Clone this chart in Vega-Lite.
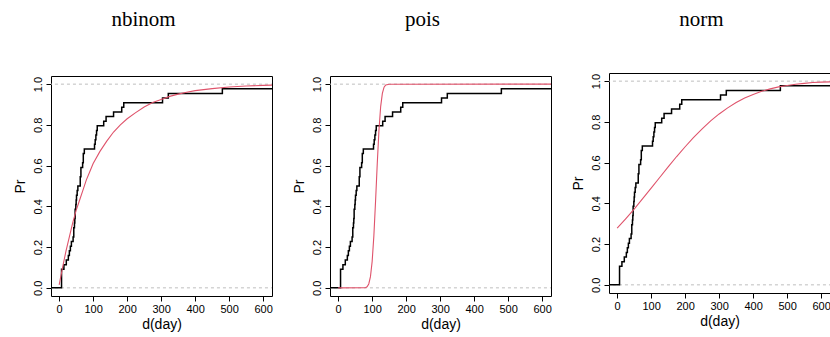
{
  "$schema": "https://vega.github.io/schema/vega-lite/v6.json",
  "padding": {"left": 12, "top": 9, "right": 0, "bottom": 0},
  "spacing": 18,
  "config": {
    "axis": {"labelFont": "Liberation Sans", "titleFont": "Liberation Sans", "titleFontWeight": "normal", "labelColor": "#000", "titleColor": "#000", "tickColor": "#000", "grid": false, "domain": false, "tickSize": 5, "labelFontSize": 11, "titleFontSize": 14, "labelOverlap": false},
    "title": {"font": "Liberation Serif", "fontWeight": "normal", "fontSize": 21, "color": "#000", "anchor": "middle", "dx": -18, "baseline": "alphabetic", "offset": 24}
  },
  "datasets": {
    "refs": [{"day": -30, "Pr": 0, "g": "a"}, {"day": 640, "Pr": 0, "g": "a"}, {"day": -30, "Pr": 1, "g": "b"}, {"day": 640, "Pr": 1, "g": "b"}],
    "ecdf": [
      {"day": -30, "Pr": 0}, {"day": 7, "Pr": 0.0909}, {"day": 14, "Pr": 0.1136}, {"day": 21, "Pr": 0.1364},
      {"day": 27, "Pr": 0.1591}, {"day": 30, "Pr": 0.1818}, {"day": 33, "Pr": 0.2045}, {"day": 36, "Pr": 0.2273},
      {"day": 41, "Pr": 0.25}, {"day": 43, "Pr": 0.2955}, {"day": 45, "Pr": 0.3182}, {"day": 46, "Pr": 0.3409},
      {"day": 47, "Pr": 0.3864}, {"day": 49, "Pr": 0.4091}, {"day": 50, "Pr": 0.4318}, {"day": 51, "Pr": 0.4545},
      {"day": 53, "Pr": 0.4773}, {"day": 55, "Pr": 0.5}, {"day": 62, "Pr": 0.5455}, {"day": 64, "Pr": 0.5909},
      {"day": 69, "Pr": 0.6136}, {"day": 71, "Pr": 0.6591}, {"day": 74, "Pr": 0.6818}, {"day": 104, "Pr": 0.7045},
      {"day": 106, "Pr": 0.7273}, {"day": 108, "Pr": 0.75}, {"day": 110, "Pr": 0.7727}, {"day": 112, "Pr": 0.7955},
      {"day": 131, "Pr": 0.8182}, {"day": 138, "Pr": 0.8409}, {"day": 160, "Pr": 0.8636}, {"day": 184, "Pr": 0.8864},
      {"day": 190, "Pr": 0.9091}, {"day": 304, "Pr": 0.9318}, {"day": 321, "Pr": 0.9545}, {"day": 480, "Pr": 0.9773},
      {"day": 640, "Pr": 0.9773}
    ],
    "nbinom": [
      {"day": 0, "Pr": 0.015}, {"day": 10, "Pr": 0.1}, {"day": 20, "Pr": 0.18}, {"day": 30, "Pr": 0.25},
      {"day": 40, "Pr": 0.32}, {"day": 50, "Pr": 0.38}, {"day": 60, "Pr": 0.43}, {"day": 70, "Pr": 0.48},
      {"day": 80, "Pr": 0.53}, {"day": 90, "Pr": 0.57}, {"day": 100, "Pr": 0.61}, {"day": 120, "Pr": 0.67},
      {"day": 140, "Pr": 0.72}, {"day": 160, "Pr": 0.765}, {"day": 180, "Pr": 0.8}, {"day": 200, "Pr": 0.83},
      {"day": 225, "Pr": 0.86}, {"day": 250, "Pr": 0.888}, {"day": 275, "Pr": 0.91}, {"day": 300, "Pr": 0.925},
      {"day": 325, "Pr": 0.94}, {"day": 350, "Pr": 0.951}, {"day": 375, "Pr": 0.96}, {"day": 400, "Pr": 0.968},
      {"day": 450, "Pr": 0.978}, {"day": 500, "Pr": 0.986}, {"day": 550, "Pr": 0.991}, {"day": 600, "Pr": 0.994},
      {"day": 640, "Pr": 0.996}
    ],
    "pois": [
      {"day": 0, "Pr": 0}, {"day": 80, "Pr": 0.0005}, {"day": 85, "Pr": 0.005}, {"day": 90, "Pr": 0.019},
      {"day": 95, "Pr": 0.055}, {"day": 100, "Pr": 0.13}, {"day": 105, "Pr": 0.255}, {"day": 110, "Pr": 0.425},
      {"day": 115, "Pr": 0.61}, {"day": 120, "Pr": 0.774}, {"day": 125, "Pr": 0.89}, {"day": 130, "Pr": 0.955},
      {"day": 135, "Pr": 0.985}, {"day": 140, "Pr": 0.996}, {"day": 150, "Pr": 0.9998}, {"day": 640, "Pr": 1}
    ],
    "norm": [
      {"day": 0, "Pr": 0.278}, {"day": 25, "Pr": 0.324}, {"day": 50, "Pr": 0.372}, {"day": 75, "Pr": 0.423},
      {"day": 100, "Pr": 0.475}, {"day": 125, "Pr": 0.527}, {"day": 150, "Pr": 0.579}, {"day": 175, "Pr": 0.63},
      {"day": 200, "Pr": 0.678}, {"day": 225, "Pr": 0.724}, {"day": 250, "Pr": 0.766}, {"day": 275, "Pr": 0.805},
      {"day": 300, "Pr": 0.839}, {"day": 325, "Pr": 0.869}, {"day": 350, "Pr": 0.895}, {"day": 375, "Pr": 0.917},
      {"day": 400, "Pr": 0.935}, {"day": 425, "Pr": 0.95}, {"day": 450, "Pr": 0.962}, {"day": 475, "Pr": 0.972},
      {"day": 500, "Pr": 0.979}, {"day": 525, "Pr": 0.985}, {"day": 550, "Pr": 0.989}, {"day": 575, "Pr": 0.993},
      {"day": 600, "Pr": 0.995}, {"day": 640, "Pr": 0.997}
    ]
  },
  "hconcat": [
    {
      "spacing": 20,
      "vconcat": [
        {"width": 221, "height": 1, "title": "nbinom", "view": {"stroke": null}, "data": {"values": [{"a": 0}]}, "mark": {"type": "point", "size": 0, "opacity": 0}},
        {
          "width": 221, "height": 220, "view": {"stroke": "#000", "strokeWidth": 1},
          "encoding": {
            "x": {"field": "day", "type": "quantitative", "scale": {"domain": [-24, 626], "nice": false, "zero": false}, "axis": {"title": "d(day)", "values": [0, 100, 200, 300, 400, 500, 600], "labelPadding": 2, "titlePadding": 3}},
            "y": {"field": "Pr", "type": "quantitative", "scale": {"domain": [-0.04, 1.04], "nice": false, "zero": false}, "axis": {"title": "Pr", "values": [0, 0.2, 0.4, 0.6, 0.8, 1], "format": ".1f", "labelAngle": -90, "labelAlign": "center", "labelBaseline": "bottom", "labelPadding": 3, "titlePadding": 5}}
          },
          "layer": [
            {"data": {"name": "refs"}, "mark": {"type": "line", "color": "#bebebe", "strokeDash": [3, 3], "strokeWidth": 1, "clip": true}, "encoding": {"detail": {"field": "g"}}},
            {"data": {"name": "ecdf"}, "mark": {"type": "line", "interpolate": "step-after", "color": "#000", "strokeWidth": 1.5, "clip": true}},
            {"data": {"name": "nbinom"}, "mark": {"type": "line", "color": "#DF536B", "strokeWidth": 1.1, "clip": true}}
          ]
        }
      ]
    },
    {
      "spacing": 20,
      "vconcat": [
        {"width": 221, "height": 1, "title": "pois", "view": {"stroke": null}, "data": {"values": [{"a": 0}]}, "mark": {"type": "point", "size": 0, "opacity": 0}},
        {
          "width": 221, "height": 220, "view": {"stroke": "#000", "strokeWidth": 1},
          "encoding": {
            "x": {"field": "day", "type": "quantitative", "scale": {"domain": [-24, 626], "nice": false, "zero": false}, "axis": {"title": "d(day)", "values": [0, 100, 200, 300, 400, 500, 600], "labelPadding": 2, "titlePadding": 3}},
            "y": {"field": "Pr", "type": "quantitative", "scale": {"domain": [-0.04, 1.04], "nice": false, "zero": false}, "axis": {"title": "Pr", "values": [0, 0.2, 0.4, 0.6, 0.8, 1], "format": ".1f", "labelAngle": -90, "labelAlign": "center", "labelBaseline": "bottom", "labelPadding": 3, "titlePadding": 5}}
          },
          "layer": [
            {"data": {"name": "refs"}, "mark": {"type": "line", "color": "#bebebe", "strokeDash": [3, 3], "strokeWidth": 1, "clip": true}, "encoding": {"detail": {"field": "g"}}},
            {"data": {"name": "ecdf"}, "mark": {"type": "line", "interpolate": "step-after", "color": "#000", "strokeWidth": 1.5, "clip": true}},
            {"data": {"name": "pois"}, "mark": {"type": "line", "color": "#DF536B", "strokeWidth": 1.1, "clip": true}}
          ]
        }
      ]
    },
    {
      "spacing": 17,
      "vconcat": [
        {"width": 221, "height": 1, "title": "norm", "view": {"stroke": null}, "data": {"values": [{"a": 0}]}, "mark": {"type": "point", "size": 0, "opacity": 0}},
        {
          "width": 221, "height": 220, "view": {"stroke": "#000", "strokeWidth": 1},
          "encoding": {
            "x": {"field": "day", "type": "quantitative", "scale": {"domain": [-24, 626], "nice": false, "zero": false}, "axis": {"title": "d(day)", "values": [0, 100, 200, 300, 400, 500, 600], "labelPadding": 2, "titlePadding": 3}},
            "y": {"field": "Pr", "type": "quantitative", "scale": {"domain": [-0.04, 1.04], "nice": false, "zero": false}, "axis": {"title": "Pr", "values": [0, 0.2, 0.4, 0.6, 0.8, 1], "format": ".1f", "labelAngle": -90, "labelAlign": "center", "labelBaseline": "bottom", "labelPadding": 3, "titlePadding": 5}}
          },
          "layer": [
            {"data": {"name": "refs"}, "mark": {"type": "line", "color": "#bebebe", "strokeDash": [3, 3], "strokeWidth": 1, "clip": true}, "encoding": {"detail": {"field": "g"}}},
            {"data": {"name": "ecdf"}, "mark": {"type": "line", "interpolate": "step-after", "color": "#000", "strokeWidth": 1.5, "clip": true}},
            {"data": {"name": "norm"}, "mark": {"type": "line", "color": "#DF536B", "strokeWidth": 1.1, "clip": true}}
          ]
        }
      ]
    }
  ]
}
